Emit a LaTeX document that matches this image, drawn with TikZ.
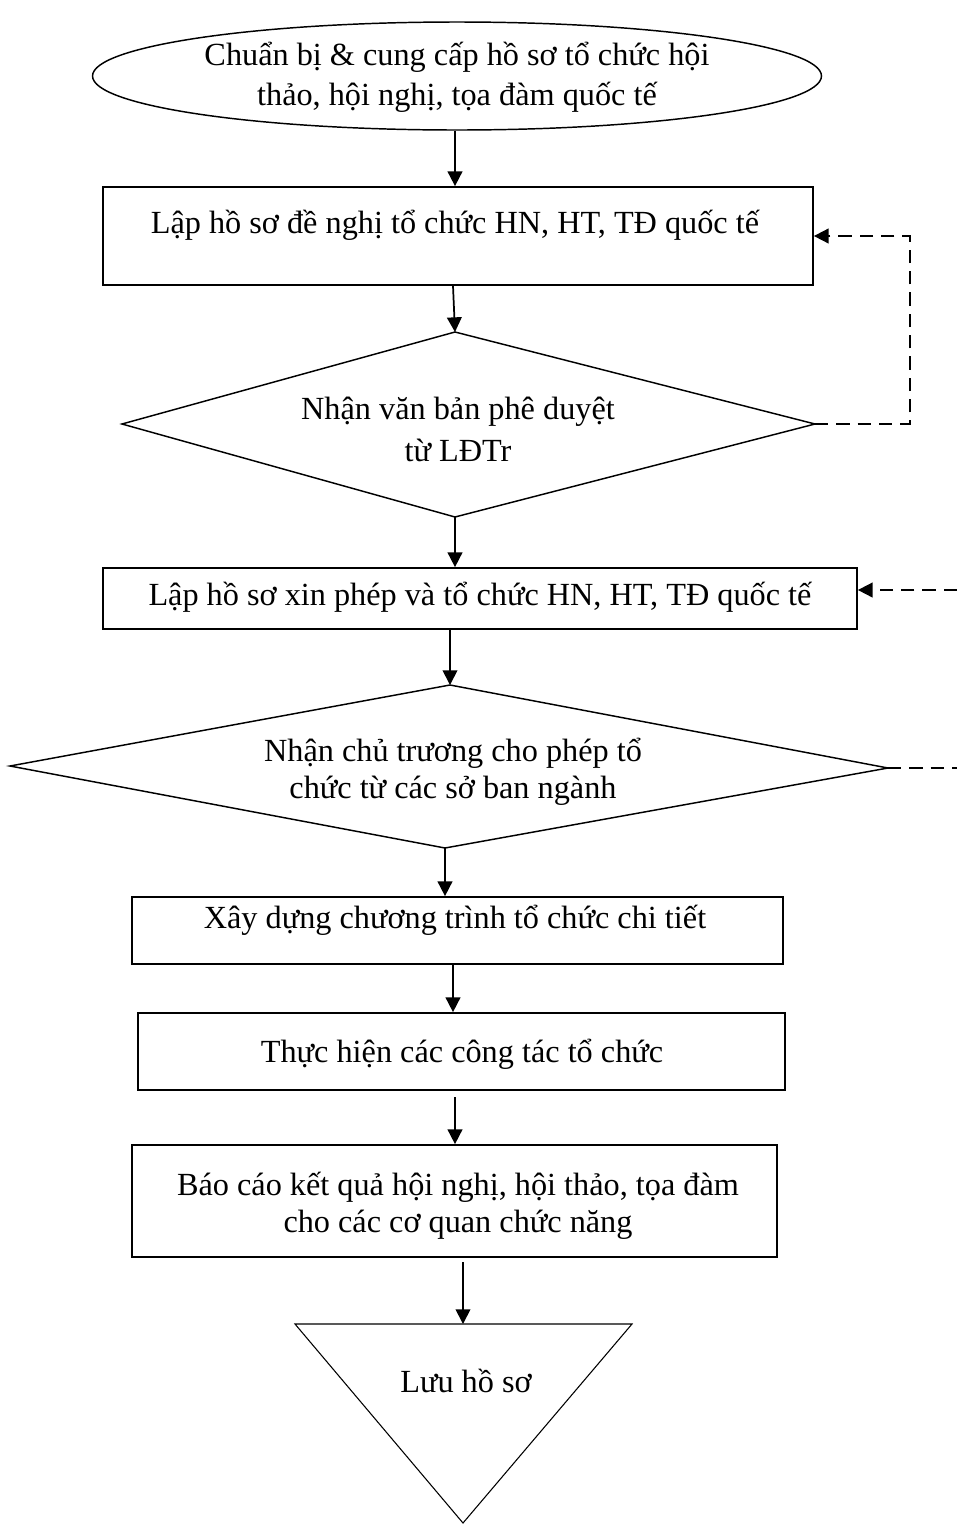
\documentclass[tikz,border=0pt]{standalone}
\usepackage{fontspec}
\setmainfont{Liberation Serif}
\usetikzlibrary{arrows.meta,shapes.geometric,fit}
\begin{document}
\begin{tikzpicture}[x=0.75pt,y=-0.75pt,
  line width=1.3pt,
  box/.style={draw,rectangle,inner sep=0pt},
  txt/.style={inner sep=0pt,align=center,font=\fontsize{24.2}{29}\selectfont},
  arr/.style={-{Triangle[length=11pt,width=11pt]}},
  dsh/.style={dash pattern=on 10pt off 6pt},
  shapeline/.style={line width=1.1pt}]
\useasboundingbox (0,0) rectangle (957,1525);
% ellipse
\node[draw,ellipse,minimum width=546.75pt,minimum height=81pt,inner sep=0pt,shapeline] (start) at (457,76) {};
\node[txt,font=\fontsize{24.2}{30}\selectfont] (tstart) at (457,77) {Chuẩn bị \& cung cấp hồ sơ tổ chức hội\\thảo, hội nghị, tọa đàm quốc tế};
% box1
\node[box,fit={(103,187) (813,285)}] (b1) {};
\node[txt] (t1) at (455,225) {Lập hồ sơ đề nghị tổ chức HN, HT, TĐ quốc tế};
% diamond 1
\coordinate (d1t) at (455,332);
\coordinate (d1b) at (455,517);
\coordinate (d1l) at (122,424);
\coordinate (d1r) at (815,424);
\draw[shapeline] (d1t) -- (d1r) -- (d1b) -- (d1l) -- cycle;
\node[txt,font=\fontsize{24.2}{31.5}\selectfont] (td1) at (458,429) {Nhận văn bản phê duyệt\\từ LĐTr};
% box2
\node[box,fit={(103,568) (857,629)}] (b2) {};
\node[txt] (t2) at (480,597) {Lập hồ sơ xin phép và tổ chức HN, HT, TĐ quốc tế};
% diamond 2
\coordinate (d2t) at (450,685);
\coordinate (d2b) at (445,848);
\coordinate (d2l) at (10,766);
\coordinate (d2r) at (888,768);
\draw[shapeline] (d2t) -- (d2r) -- (d2b) -- (d2l) -- cycle;
\node[txt,font=\fontsize{24.2}{28}\selectfont] (td2) at (453,772) {Nhận chủ trương cho phép tổ\\chức từ các sở ban ngành};
% box3
\node[box,fit={(132,897) (783,964)}] (b3) {};
\node[txt] (t3) at (455,920) {Xây dựng chương trình tổ chức chi tiết};
% box4
\node[box,fit={(138,1013) (785,1090)}] (b4) {};
\node[txt] (t4) at (462,1054) {Thực hiện các công tác tổ chức};
% box5
\node[box,fit={(132,1145) (777,1257)}] (b5) {};
\node[txt,font=\fontsize{24.2}{28}\selectfont] (t5) at (458,1206) {Báo cáo kết quả hội nghị, hội thảo, tọa đàm\\cho các cơ quan chức năng};
% triangle
\coordinate (trl) at (295,1324);
\coordinate (trr) at (632,1324);
\coordinate (trb) at (463,1523);
\coordinate (trt) at (463,1324);
\draw[line width=0.8pt] (trl) -- (trr) -- (trb) -- cycle;
\node[txt] (tend) at (466,1381) {Lưu hồ sơ};
% main arrows
\draw[arr] (start.south -| 455,0) -- (b1.north -| 455,0);
\draw[arr] (b1.south -| 453,0) -- (d1t);
\draw[arr] (d1b) -- (b2.north -| 455,0);
\draw[arr] (b2.south -| 450,0) -- (d2t);
\draw[arr] (d2b) -- (b3.north -| 445,0);
\draw[arr] (b3.south -| 453,0) -- (b4.north -| 453,0);
\coordinate (a5s) at (455,1097);
\draw[arr] (a5s) -- (b5.north -| 455,0);
\coordinate (a6s) at (463,1262);
\draw[arr] (a6s) -- (trt);
% dashed feedback
\coordinate (fb1) at (910,424);
\coordinate (fb2) at (910,236);
\draw[dsh,arr] (d1r) -- (fb1) -- (fb2) -- (b1.east);
\coordinate (fe1) at (957,768);
\coordinate (fe2) at (957,590);
\draw[dsh] (d2r) -- (fe1);
\draw[dsh,arr] (fe2) -- (b2.east |- fe2);
\end{tikzpicture}
\end{document}
